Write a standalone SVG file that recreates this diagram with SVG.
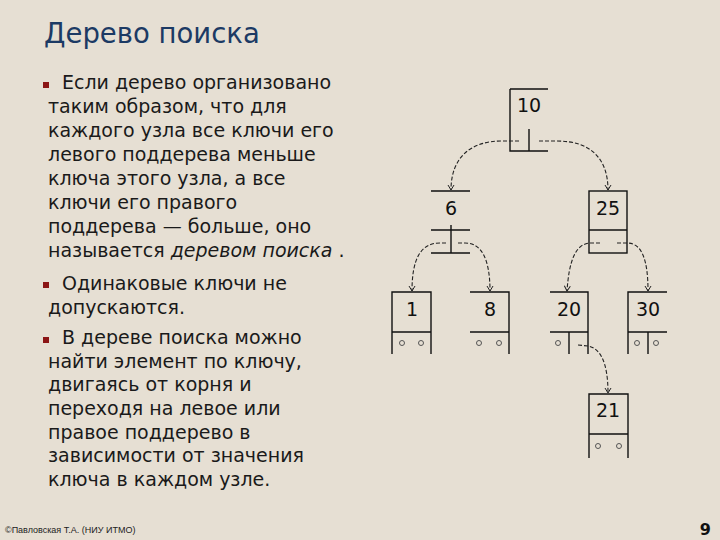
<svg xmlns="http://www.w3.org/2000/svg" width="720" height="540" viewBox="0 0 720 540">
<style>
.t{font-family:"DejaVu Sans",Verdana,sans-serif;font-size:19px;fill:#1a1a1a}
.k{font-family:"DejaVu Sans",Verdana,sans-serif;font-size:19px;fill:#111;text-anchor:middle}
.ln{stroke:#111;stroke-width:1.4;fill:none}
.c{stroke:#555;stroke-width:1;fill:none}
.a{stroke:#222;stroke-width:1.1;fill:none;stroke-dasharray:4 2}
.b{fill:#8b1515}
</style>
<defs>
<marker id="ah" markerWidth="8" markerHeight="8" refX="6" refY="4" orient="auto" markerUnits="userSpaceOnUse">
<path d="M1,1 L6,4 L1,7" fill="none" stroke="#222" stroke-width="1"/>
</marker>
</defs>
<rect width="720" height="540" fill="#e6dfd3"/>
<text x="44" y="43" font-family="'DejaVu Sans',Tahoma,sans-serif" font-size="27.5" fill="#1c3a64">Дерево поиска</text>
<g id="text">
<rect class="b" x="43" y="82" width="6" height="6"/>
<text class="t" x="62" y="89">Если дерево организовано</text>
<text class="t" x="48" y="113">таким образом, что для</text>
<text class="t" x="48" y="137">каждого узла все ключи его</text>
<text class="t" x="48" y="161">левого поддерева меньше</text>
<text class="t" x="48" y="185">ключа этого узла, а все</text>
<text class="t" x="48" y="209">ключи его правого</text>
<text class="t" x="48" y="233">поддерева — больше, оно</text>
<text class="t" x="48" y="257">называется <tspan font-style="italic">деревом поиска</tspan> .</text>
<rect class="b" x="43" y="282" width="6" height="6"/>
<text class="t" x="62" y="290">Одинаковые ключи не</text>
<text class="t" x="48" y="314">допускаются.</text>
<rect class="b" x="43" y="337" width="6" height="6"/>
<text class="t" x="62" y="344">В дереве поиска можно</text>
<text class="t" x="48" y="368">найти элемент по ключу,</text>
<text class="t" x="48" y="391">двигаясь от корня и</text>
<text class="t" x="48" y="415">переходя на левое или</text>
<text class="t" x="48" y="439">правое поддерево в</text>
<text class="t" x="48" y="462">зависимости от значения</text>
<text class="t" x="48" y="486">ключа в каждом узле.</text>
</g>
<g id="n10">
<path class="ln" d="M510,89 H548 M510,89 V151 H548 M529,129 V151"/>
<text class="k" x="529" y="112">10</text>
</g>
<g id="n6">
<path class="ln" d="M431,191 H470 M431,230 H470 M431,253 H470 M451,225 V253"/>
<text class="k" x="451" y="215">6</text>
</g>
<g id="n25">
<rect class="ln" x="589" y="191" width="38" height="62"/>
<path class="ln" d="M589,230 H627"/>
<text class="k" x="608" y="215">25</text>
</g>
<g id="n1">
<path class="ln" d="M392,354 V292 H431 V354 M392,332 H431"/>
<text class="k" x="412" y="316">1</text>
<circle class="c" cx="402" cy="343" r="2.5"/><circle class="c" cx="421" cy="343" r="2.5"/>
</g>
<g id="n8">
<path class="ln" d="M470,292 H509 V354 M470,332 H509"/>
<text class="k" x="490" y="316">8</text>
<circle class="c" cx="479" cy="343" r="2.5"/><circle class="c" cx="499" cy="343" r="2.5"/>
</g>
<g id="n20">
<path class="ln" d="M550,292 H588 V354 M550,332 H588 M569,332 V354"/>
<text class="k" x="569" y="316">20</text>
<circle class="c" cx="558" cy="343" r="2.5"/>
</g>
<g id="n30">
<path class="ln" d="M628,354 V292 H667 M628,332 H667 M648,332 V354"/>
<text class="k" x="648" y="316">30</text>
<circle class="c" cx="637" cy="343" r="2.5"/><circle class="c" cx="656" cy="343" r="2.5"/>
</g>
<g id="n21">
<path class="ln" d="M589,458 V394 H628 V458 M589,434 H628"/>
<text class="k" x="608" y="417">21</text>
<circle class="c" cx="598" cy="446" r="2.5"/><circle class="c" cx="619" cy="446" r="2.5"/>
</g>
<g id="connectors">
<path class="a" marker-end="url(#ah)" d="M519,141 L502,141 C470,141 451,158 451,190"/>
<path class="a" marker-end="url(#ah)" d="M539,141 L557,141 C590,141 608,158 608,190"/>
<path class="a" marker-end="url(#ah)" d="M446,243 L440,243 C420,243 412,260 412,291"/>
<path class="a" marker-end="url(#ah)" d="M458,243 L465,243 C482,243 490,260 490,291"/>
<path class="a" marker-end="url(#ah)" d="M600,243 L591,243 C575,243 569,262 567,291"/>
<path class="a" marker-end="url(#ah)" d="M617,243 L627,243 C642,243 648,260 648,291"/>
<path class="a" marker-end="url(#ah)" d="M578,345 L588,346 C600,348 608,362 608,393"/>
</g>
<text x="5" y="533" font-family="'Liberation Sans',Arial,sans-serif" font-size="9" fill="#222">©Павловская Т.А. (НИУ ИТМО)</text>
<text x="711" y="535" font-family="'DejaVu Sans',Verdana,sans-serif" font-size="16" font-weight="bold" fill="#111" text-anchor="end">9</text>
</svg>
